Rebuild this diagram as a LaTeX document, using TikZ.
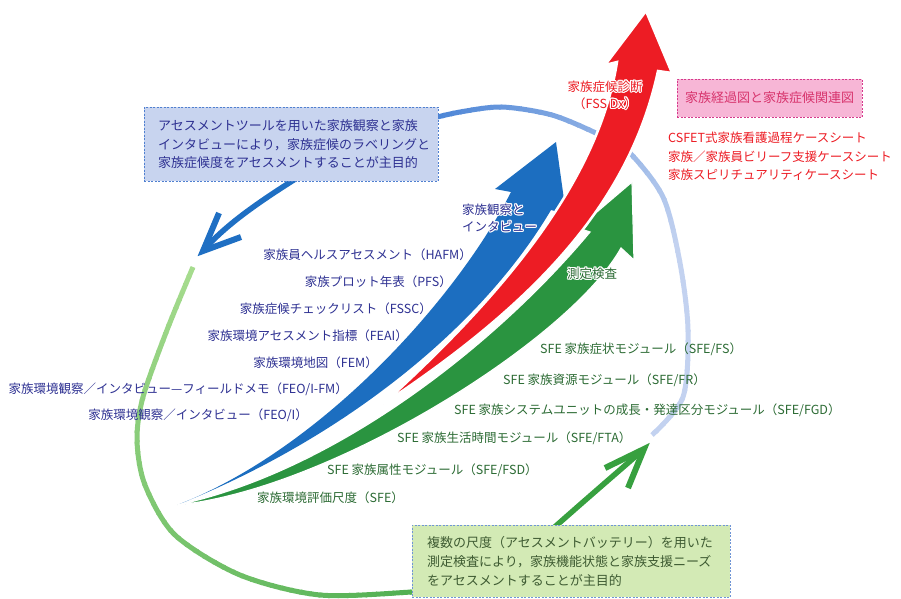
\documentclass[tikz,border=0pt]{standalone}
\usepackage{fontspec}
\setmainfont{Noto Sans CJK JP}
\usepackage[copies]{contour}
\contourlength{1.1pt}
\contournumber{12}
\definecolor{navyc}{HTML}{2E3192}
\definecolor{greenc}{HTML}{2C6B34}
\definecolor{boxgtext}{HTML}{3E5B32}
\definecolor{redc}{HTML}{EC1C24}
\definecolor{pinkt}{HTML}{D7336C}
\definecolor{arcD}{HTML}{4A84D6}
\definecolor{arcL}{HTML}{C3D2F0}
\definecolor{grL}{HTML}{A9DD90}
\definecolor{grD}{HTML}{52B052}
\definecolor{blueS}{HTML}{1C6EC0}
\definecolor{redS}{HTML}{ED1C24}
\definecolor{greenS}{HTML}{2A9440}
\definecolor{arrB}{HTML}{1F6FC3}
\definecolor{arrG}{HTML}{37A03F}
\definecolor{b1fill}{HTML}{C8D4EF}
\definecolor{b1draw}{HTML}{5080D0}
\definecolor{pkfill}{HTML}{F7B6D6}
\definecolor{pkdraw}{HTML}{D63A8C}
\definecolor{gbfill}{HTML}{D3EAB5}
\definecolor{gbdraw}{HTML}{6F95D6}
\begin{document}
\begin{tikzpicture}[x=1pt,y=-1pt,
  lab/.style={font=\fontsize{12.5}{15}\selectfont, inner sep=0pt},
  navyl/.style={lab, text=navyc, anchor=east},
  greenl/.style={lab, text=greenc, anchor=west},
  redl/.style={lab, text=redc, anchor=west},
  btext/.style={font=\fontsize{13}{15}\selectfont, inner sep=0pt, anchor=west},
  dbox/.style={dash pattern=on 2pt off 1.5pt, line width=0.8pt, inner sep=0pt},
  looparc/.style={line width=5pt},
  chev/.style={line width=6pt, line join=miter, miter limit=10},
]
\useasboundingbox (0,0) rectangle (901,598);

% ---------- loop: top / right arc (gradient by angle) ----------
\foreach \k in {0,...,58}{
  \pgfmathsetmacro{\aa}{-97+\k*2.05}
  \pgfmathtruncatemacro{\pp}{min(100,max(0,(\aa+86)*100/62))}
  \begin{scope}
    \clip (412,353) -- +(\aa:900) -- +(\aa+2.4:900) -- cycle;
    \draw[looparc, draw=arcL!\pp!arcD] plot[smooth] coordinates
      {(425,120) (460,112) (502,107) (552,115) (598,134) (627,150) (663,197) (680,263) (688,330) (683,397) (652,435)};
  \end{scope}
}
% ---------- loop: left arc ----------
\foreach \k in {0,...,58}{
  \pgfmathsetmacro{\aa}{84+\k*2.05}
  \pgfmathtruncatemacro{\pp}{min(100,max(0,(\aa-90)*100/112))}
  \begin{scope}
    \clip (412,353) -- +(\aa:900) -- +(\aa+2.4:900) -- cycle;
    \draw[looparc, draw=grL!\pp!grD] plot[smooth] coordinates
      {(193,267) (167,330) (143,397) (137,440) (145,485) (175,535) (240,575) (320,595) (412,592) (435,590)};
  \end{scope}
}

% ---------- small curved arrows ----------
\coordinate (T1) at (203,251);
\coordinate (B1) at (219,213);
\coordinate (B2) at (241,237);
\draw[arrB, line width=5.5pt] (300,176) .. controls (262,200) and (226,224) .. (T1);
\draw[arrB, chev] (B1) -- (T1) -- (B2);

\coordinate (T2) at (644,449);
\coordinate (B3) at (605,468);
\coordinate (B4) at (628,488);
\draw[arrG, line width=5.5pt] (540,540) .. controls (585,500) and (620,470) .. (T2);
\draw[arrG, chev] (B3) -- (T2) -- (B4);

% ---------- big swooshes ----------
\coordinate (S) at (177,505);
\fill[blueS] (S) .. controls (320,450) and (456,300) .. (511,192) -- (495,189) -- (556,142)
   -- (566,214) -- (551,210) .. controls (480,330) and (340,440) .. (S) -- cycle;
\filldraw[fill=greenS, draw=white, line width=1.2pt] (S) .. controls (340,470) and (500,340) .. (590,232)
   -- (578,228) -- (632,182) -- (634,260) -- (621,248) .. controls (570,340) and (330,490) .. (S) -- cycle;
\filldraw[fill=redS, draw=white, line width=2.5pt] (383,404) .. controls (520,280) and (600,170) .. (617,62)
   -- (605,65) -- (646,11) -- (672,73) -- (658,71) .. controls (630,200) and (540,300) .. (383,404) -- cycle;

% ---------- boxes ----------
\node[dbox, draw=b1draw, fill=b1fill, minimum width=294pt, minimum height=74pt] (box1) at (291,144) {};
\node[btext, text=navyc] (b1a) at (158,126) {アセスメントツールを用いた家族観察と家族};
\node[btext, text=navyc] (b1b) at (158,145) {インタビューにより，家族症候のラベリングと};
\node[btext, text=navyc] (b1c) at (158,163) {家族症候度をアセスメントすることが主目的};

\node[dbox, draw=gbdraw, fill=gbfill, minimum width=318pt, minimum height=72pt] (box2) at (571,561) {};
\node[btext, text=boxgtext] (b2a) at (427,543) {複数の尺度（アセスメントバッテリー）を用いた};
\node[btext, text=boxgtext] (b2b) at (427,562) {測定検査により，家族機能状態と家族支援ニーズ};
\node[btext, text=boxgtext] (b2c) at (427,580) {をアセスメントすることが主目的};

\node[dbox, draw=pkdraw, fill=pkfill, minimum width=185pt, minimum height=38pt,
      text=pinkt, font=\fontsize{13}{15}\selectfont] (box3) at (769.5,98) {家族経過図と家族症候関連図};

% ---------- red texts ----------
\node[lab, text=redc] (dx1) at (605,87) {\contour{white}{家族症候診断}};
\node[lab, text=redc] (dx2) at (605,104) {\contour{white}{（FSS Dx）}};
\node[redl] (r1) at (668,138) {CSFET式家族看護過程ケースシート};
\node[redl] (r2) at (668,157) {家族／家族員ビリーフ支援ケースシート};
\node[redl] (r3) at (668,175) {家族スピリチュアリティケースシート};

% ---------- arrow labels ----------
\node[lab, text=navyc, anchor=west] (obs1) at (462,210) {\contour{white}{家族観察と}};
\node[lab, text=navyc, anchor=west] (obs2) at (462,227) {\contour{white}{インタビュー}};
\node[lab, text=greenc, anchor=west] (meas) at (567,274) {\contour{white}{測定検査}};

% ---------- left list ----------
\node[navyl] (l1) at (472,255) {家族員ヘルスアセスメント（HAFM）};
\node[navyl] (l2) at (452,282) {家族プロット年表（PFS）};
\node[navyl] (l3) at (432,309) {家族症候チェックリスト（FSSC）};
\node[navyl] (l4) at (408,336) {家族環境アセスメント指標（FEAI）};
\node[navyl] (l5) at (378,363) {家族環境地図（FEM）};
\node[navyl] (l6) at (348,389) {家族環境観察／インタビュー—フィールドメモ（FEO/I-FM）};
\node[navyl] (l7) at (308,415) {家族環境観察／インタビュー（FEO/I）};

% ---------- green list ----------
\node[greenl] (g1) at (540,349) {SFE 家族症状モジュール（SFE/FS）};
\node[greenl] (g2) at (503,380) {SFE 家族資源モジュール（SFE/FR）};
\node[greenl] (g3) at (454,410) {SFE 家族システムユニットの成長・発達区分モジュール（SFE/FGD）};
\node[greenl] (g4) at (397,438) {SFE 家族生活時間モジュール（SFE/FTA）};
\node[greenl] (g5) at (327,470) {SFE 家族属性モジュール（SFE/FSD）};
\node[greenl] (g6) at (257,498) {家族環境評価尺度（SFE）};
\end{tikzpicture}
\end{document}
